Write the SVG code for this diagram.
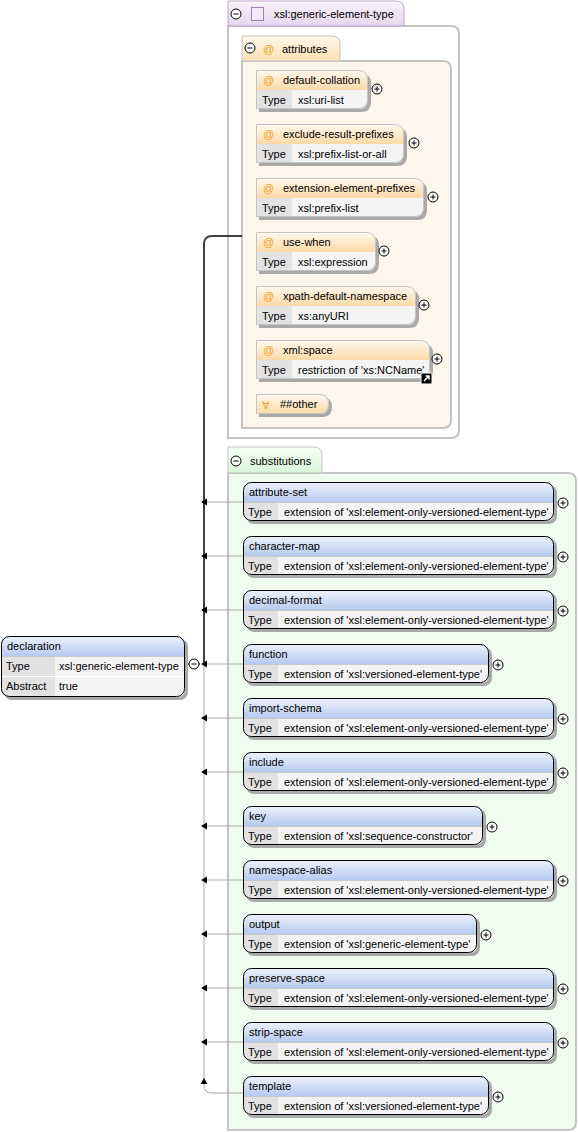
<svg xmlns="http://www.w3.org/2000/svg" width="578" height="1132" viewBox="0 0 578 1132">
<defs>
<linearGradient id="gBlue" x1="0" y1="0" x2="0" y2="1"><stop offset="0" stop-color="#eef3fc"/><stop offset="1" stop-color="#b6caee"/></linearGradient>
<linearGradient id="gOrange" x1="0" y1="0" x2="0" y2="1"><stop offset="0" stop-color="#fffaf1"/><stop offset="1" stop-color="#fcd9a6"/></linearGradient>
<linearGradient id="gPurple" x1="0" y1="0" x2="0" y2="1"><stop offset="0" stop-color="#f8f3fa"/><stop offset="1" stop-color="#e6d6ee"/></linearGradient>
<linearGradient id="gAttrTab" x1="0" y1="0" x2="0" y2="1"><stop offset="0" stop-color="#fff7ea"/><stop offset="1" stop-color="#fde0b4"/></linearGradient>
<linearGradient id="gGreen" x1="0" y1="0" x2="0" y2="1"><stop offset="0" stop-color="#f6fff6"/><stop offset="1" stop-color="#d8f6d8"/></linearGradient>
<g id="plus"><circle r="5" fill="#fff" stroke="#000" stroke-width="1"/><path d="M-2.5,0H2.5M0,-2.5V2.5" stroke="#000" stroke-width="1"/></g>
<g id="minus"><circle r="5" fill="#fff" stroke="#000" stroke-width="1"/><path d="M-2.5,0H2.5" stroke="#000" stroke-width="1"/></g>
</defs>
<style>
text{font-family:"Liberation Sans",Arial,sans-serif;font-size:11px;fill:#000}
.at{fill:#f0a020}
.shadow{fill:#a9a9a9}
.hdrB{fill:url(#gBlue)}
.hdrO{fill:url(#gOrange)}
.body{fill:#f4f4f4}
.lbl{fill:#e2e2e2}
.eout{fill:none;stroke:#000;stroke-width:1}
.aout{fill:none;stroke:#c4c4c4;stroke-width:1}
.sep{stroke:#c8c8c8;stroke-width:1}
.wsep{stroke:#fff;stroke-width:1}
.conn{fill:none;stroke:#a8a8a8;stroke-width:1}
.connD{fill:none;stroke:#404040;stroke-width:2}
.ah{fill:#000}
.box{stroke:#c4c4c4;stroke-width:2}
</style>

<!-- complex type container -->
<g id="complexType">
<path class="box" d="M228,438V26H451Q459,26 459,34V430Q459,438 451,438Z" fill="#fff"/>
<path d="M228,26V1H396Q404,1 404,9V26Z" fill="url(#gPurple)" stroke="#bda8c8" stroke-width="1"/>
<use href="#minus" x="236" y="14"/>
<rect x="251.5" y="7.5" width="12" height="13" fill="#f1e8f5" stroke="#a67cb8" stroke-width="1"/>
<text x="274" y="18">xsl:generic-element-type</text>
</g>

<g id="attributes">
<path class="box" d="M242,428V61H443Q451,61 451,69V420Q451,428 443,428Z" fill="#fdf6ec"/>
<path d="M242,61V36H332Q340,36 340,44V61Z" fill="url(#gAttrTab)" stroke="#c4c4c4" stroke-width="1"/>
<use href="#minus" x="250" y="48"/>
<text class="at" x="263" y="53">@</text>
<text x="282" y="53">attributes</text>
</g>

<!-- attribute nodes -->
<g id="attr-default-collation" transform="translate(256,70)">
<path class="shadow" d="M3,3H102Q115,3 115,13V32Q115,42 105,42H3Z"/>
<path class="hdrO" d="M0,0H102Q112,0 112,10V20H0Z"/>
<path class="body" d="M0,20H112V29Q112,39 102,39H0Z"/>
<rect class="lbl" x="0" y="20" width="36" height="19"/>
<path class="aout" d="M0.5,0.5H102Q111.5,0.5 111.5,10V29Q111.5,38.5 102,38.5H0.5Z"/>
<text class="at" x="7" y="14">@</text><text x="27" y="14">default-collation</text>
<text x="6" y="34">Type</text><text x="42" y="34">xsl:uri-list</text>
<use href="#plus" x="121" y="19"/>
</g>
<g id="attr-exclude-result-prefixes" transform="translate(256,124)">
<path class="shadow" d="M3,3H138Q151,3 151,13V32Q151,42 141,42H3Z"/>
<path class="hdrO" d="M0,0H138Q148,0 148,10V20H0Z"/>
<path class="body" d="M0,20H148V29Q148,39 138,39H0Z"/>
<rect class="lbl" x="0" y="20" width="36" height="19"/>
<path class="aout" d="M0.5,0.5H138Q147.5,0.5 147.5,10V29Q147.5,38.5 138,38.5H0.5Z"/>
<text class="at" x="7" y="14">@</text><text x="27" y="14">exclude-result-prefixes</text>
<text x="6" y="34">Type</text><text x="42" y="34">xsl:prefix-list-or-all</text>
<use href="#plus" x="158" y="19"/>
</g>
<g id="attr-extension-element-prefixes" transform="translate(256,178)">
<path class="shadow" d="M3,3H158Q171,3 171,13V32Q171,42 161,42H3Z"/>
<path class="hdrO" d="M0,0H158Q168,0 168,10V20H0Z"/>
<path class="body" d="M0,20H168V29Q168,39 158,39H0Z"/>
<rect class="lbl" x="0" y="20" width="36" height="19"/>
<path class="aout" d="M0.5,0.5H158Q167.5,0.5 167.5,10V29Q167.5,38.5 158,38.5H0.5Z"/>
<text class="at" x="7" y="14">@</text><text x="27" y="14">extension-element-prefixes</text>
<text x="6" y="34">Type</text><text x="42" y="34">xsl:prefix-list</text>
<use href="#plus" x="177" y="19"/>
</g>
<g id="attr-use-when" transform="translate(256,232)">
<path class="shadow" d="M3,3H110Q123,3 123,13V32Q123,42 113,42H3Z"/>
<path class="hdrO" d="M0,0H110Q120,0 120,10V20H0Z"/>
<path class="body" d="M0,20H120V29Q120,39 110,39H0Z"/>
<rect class="lbl" x="0" y="20" width="36" height="19"/>
<path class="aout" d="M0.5,0.5H110Q119.5,0.5 119.5,10V29Q119.5,38.5 110,38.5H0.5Z"/>
<text class="at" x="7" y="14">@</text><text x="27" y="14">use-when</text>
<text x="6" y="34">Type</text><text x="42" y="34">xsl:expression</text>
<use href="#plus" x="128" y="19"/>
</g>
<g id="attr-xpath-default-namespace" transform="translate(256,286)">
<path class="shadow" d="M3,3H150Q163,3 163,13V32Q163,42 153,42H3Z"/>
<path class="hdrO" d="M0,0H150Q160,0 160,10V20H0Z"/>
<path class="body" d="M0,20H160V29Q160,39 150,39H0Z"/>
<rect class="lbl" x="0" y="20" width="36" height="19"/>
<path class="aout" d="M0.5,0.5H150Q159.5,0.5 159.5,10V29Q159.5,38.5 150,38.5H0.5Z"/>
<text class="at" x="7" y="14">@</text><text x="27" y="14">xpath-default-namespace</text>
<text x="6" y="34">Type</text><text x="42" y="34">xs:anyURI</text>
<use href="#plus" x="168" y="19"/>
</g>
<g id="attr-xml-space" transform="translate(256,340)">
<path class="shadow" d="M3,3H164Q177,3 177,13V32Q177,42 167,42H3Z"/>
<path class="hdrO" d="M0,0H164Q174,0 174,10V20H0Z"/>
<path class="body" d="M0,20H174V29Q174,39 164,39H0Z"/>
<rect class="lbl" x="0" y="20" width="36" height="19"/>
<path class="aout" d="M0.5,0.5H164Q173.5,0.5 173.5,10V29Q173.5,38.5 164,38.5H0.5Z"/>
<text class="at" x="7" y="14">@</text><text x="27" y="14">xml:space</text>
<text x="6" y="34">Type</text><text x="42" y="34">restriction of 'xs:NCName'</text>
<use href="#plus" x="181" y="19"/>
<rect x="165" y="33" width="11" height="11" fill="#000" stroke="#fff" stroke-width="1"/>
<path d="M168,41L173,36M169.5,36H173V39.5" fill="none" stroke="#fff" stroke-width="1.5"/>
</g>
<g id="attr-other" transform="translate(256,394)">
<path class="shadow" d="M3,3H66Q76,3 76,13V13Q76,23 66,23H3Z"/>
<path class="hdrO" d="M0,0H64Q73,0 73,10V10Q73,20 64,20H0Z"/>
<path class="aout" d="M0.5,0.5H64Q72.5,0.5 72.5,10V10Q72.5,19.5 64,19.5H0.5Z"/>
<text class="at" x="6" y="15" style="font-family:'DejaVu Sans',sans-serif;font-size:11px">∀</text>
<text x="24" y="14">##other</text>
</g>

<!-- substitutions container -->
<g id="substitutions">
<path class="box" d="M228,1130V473H568Q576,473 576,481V1122Q576,1130 568,1130Z" fill="#f1fcf1"/>
<path d="M228,473V447H314Q322,447 322,455V473Z" fill="url(#gGreen)" stroke="#c4c4c4" stroke-width="1"/>
<use href="#minus" x="236" y="461"/>
<text x="250" y="465">substitutions</text>
</g>

<!-- connectors -->
<g id="connectors">
<path class="connD" d="M242,236H212Q204,236 204,244V664"/>
<path class="conn" d="M204,664V1085Q204,1093 212,1093H243"/>
<path class="conn" d="M205,502H243M205,556H243M205,610H243M205,664H243M205,718H243M205,772H243M205,826H243M205,880H243M205,934H243M205,988H243M205,1042H243"/>
<path class="ah" d="M201,502L207,498.5V505.5ZM201,556L207,552.5V559.5ZM201,610L207,606.5V613.5ZM201,664L207,660.5V667.5ZM201,718L207,714.5V721.5ZM201,772L207,768.5V775.5ZM201,826L207,822.5V829.5ZM201,880L207,876.5V883.5ZM201,934L207,930.5V937.5ZM201,988L207,984.5V991.5ZM201,1042L207,1038.5V1045.5ZM204,1078L200.5,1084H207.5Z"/>
<path d="M186,664H200" stroke="#000" stroke-width="1"/>
</g>

<!-- declaration -->
<g id="declaration" transform="translate(1,636)">
<rect class="shadow" x="3" y="3" width="184" height="61" rx="8"/>
<path class="hdrB" d="M0,20V8Q0,0 8,0H176Q184,0 184,8V20Z"/>
<path class="body" d="M0,20H184V53Q184,61 176,61H8Q0,61 0,53Z"/>
<path class="lbl" d="M0,20H54V61H8Q0,61 0,53Z"/>
<path class="wsep" d="M0,40.5H184"/>
<path class="sep" d="M0,20.5H184"/>
<rect class="eout" x="0.5" y="0.5" width="183" height="60" rx="8"/>
<text x="6" y="14">declaration</text>
<text x="5" y="34">Type</text><text x="58" y="34">xsl:generic-element-type</text>
<text x="5" y="54">Abstract</text><text x="58" y="54">true</text>
<use href="#minus" x="193" y="28"/>
</g>

<!-- substitution elements -->
<g id="el-attribute-set" transform="translate(243,482)">
<rect class="shadow" x="3" y="3" width="311" height="39" rx="8"/>
<path class="hdrB" d="M0,20V8Q0,0 8,0H303Q311,0 311,8V20Z"/>
<path class="body" d="M0,20H311V31Q311,39 303,39H8Q0,39 0,31Z"/>
<path class="lbl" d="M0,20H35V39H8Q0,39 0,31Z"/>
<path class="sep" d="M0,20.5H311"/>
<rect class="eout" x="0.5" y="0.5" width="310" height="38" rx="8"/>
<text x="6" y="14">attribute-set</text>
<text x="5" y="34">Type</text><text x="41" y="34">extension of 'xsl:element-only-versioned-element-type'</text>
<use href="#plus" x="320" y="21"/>
</g>
<g id="el-character-map" transform="translate(243,536)">
<rect class="shadow" x="3" y="3" width="311" height="39" rx="8"/>
<path class="hdrB" d="M0,20V8Q0,0 8,0H303Q311,0 311,8V20Z"/>
<path class="body" d="M0,20H311V31Q311,39 303,39H8Q0,39 0,31Z"/>
<path class="lbl" d="M0,20H35V39H8Q0,39 0,31Z"/>
<path class="sep" d="M0,20.5H311"/>
<rect class="eout" x="0.5" y="0.5" width="310" height="38" rx="8"/>
<text x="6" y="14">character-map</text>
<text x="5" y="34">Type</text><text x="41" y="34">extension of 'xsl:element-only-versioned-element-type'</text>
<use href="#plus" x="320" y="21"/>
</g>
<g id="el-decimal-format" transform="translate(243,590)">
<rect class="shadow" x="3" y="3" width="311" height="39" rx="8"/>
<path class="hdrB" d="M0,20V8Q0,0 8,0H303Q311,0 311,8V20Z"/>
<path class="body" d="M0,20H311V31Q311,39 303,39H8Q0,39 0,31Z"/>
<path class="lbl" d="M0,20H35V39H8Q0,39 0,31Z"/>
<path class="sep" d="M0,20.5H311"/>
<rect class="eout" x="0.5" y="0.5" width="310" height="38" rx="8"/>
<text x="6" y="14">decimal-format</text>
<text x="5" y="34">Type</text><text x="41" y="34">extension of 'xsl:element-only-versioned-element-type'</text>
<use href="#plus" x="320" y="21"/>
</g>
<g id="el-function" transform="translate(243,644)">
<rect class="shadow" x="3" y="3" width="246" height="39" rx="8"/>
<path class="hdrB" d="M0,20V8Q0,0 8,0H238Q246,0 246,8V20Z"/>
<path class="body" d="M0,20H246V31Q246,39 238,39H8Q0,39 0,31Z"/>
<path class="lbl" d="M0,20H35V39H8Q0,39 0,31Z"/>
<path class="sep" d="M0,20.5H246"/>
<rect class="eout" x="0.5" y="0.5" width="245" height="38" rx="8"/>
<text x="6" y="14">function</text>
<text x="5" y="34">Type</text><text x="41" y="34">extension of 'xsl:versioned-element-type'</text>
<use href="#plus" x="255" y="21"/>
</g>
<g id="el-import-schema" transform="translate(243,698)">
<rect class="shadow" x="3" y="3" width="311" height="39" rx="8"/>
<path class="hdrB" d="M0,20V8Q0,0 8,0H303Q311,0 311,8V20Z"/>
<path class="body" d="M0,20H311V31Q311,39 303,39H8Q0,39 0,31Z"/>
<path class="lbl" d="M0,20H35V39H8Q0,39 0,31Z"/>
<path class="sep" d="M0,20.5H311"/>
<rect class="eout" x="0.5" y="0.5" width="310" height="38" rx="8"/>
<text x="6" y="14">import-schema</text>
<text x="5" y="34">Type</text><text x="41" y="34">extension of 'xsl:element-only-versioned-element-type'</text>
<use href="#plus" x="320" y="21"/>
</g>
<g id="el-include" transform="translate(243,752)">
<rect class="shadow" x="3" y="3" width="311" height="39" rx="8"/>
<path class="hdrB" d="M0,20V8Q0,0 8,0H303Q311,0 311,8V20Z"/>
<path class="body" d="M0,20H311V31Q311,39 303,39H8Q0,39 0,31Z"/>
<path class="lbl" d="M0,20H35V39H8Q0,39 0,31Z"/>
<path class="sep" d="M0,20.5H311"/>
<rect class="eout" x="0.5" y="0.5" width="310" height="38" rx="8"/>
<text x="6" y="14">include</text>
<text x="5" y="34">Type</text><text x="41" y="34">extension of 'xsl:element-only-versioned-element-type'</text>
<use href="#plus" x="320" y="21"/>
</g>
<g id="el-key" transform="translate(243,806)">
<rect class="shadow" x="3" y="3" width="240" height="39" rx="8"/>
<path class="hdrB" d="M0,20V8Q0,0 8,0H232Q240,0 240,8V20Z"/>
<path class="body" d="M0,20H240V31Q240,39 232,39H8Q0,39 0,31Z"/>
<path class="lbl" d="M0,20H35V39H8Q0,39 0,31Z"/>
<path class="sep" d="M0,20.5H240"/>
<rect class="eout" x="0.5" y="0.5" width="239" height="38" rx="8"/>
<text x="6" y="14">key</text>
<text x="5" y="34">Type</text><text x="41" y="34">extension of 'xsl:sequence-constructor'</text>
<use href="#plus" x="249" y="21"/>
</g>
<g id="el-namespace-alias" transform="translate(243,860)">
<rect class="shadow" x="3" y="3" width="311" height="39" rx="8"/>
<path class="hdrB" d="M0,20V8Q0,0 8,0H303Q311,0 311,8V20Z"/>
<path class="body" d="M0,20H311V31Q311,39 303,39H8Q0,39 0,31Z"/>
<path class="lbl" d="M0,20H35V39H8Q0,39 0,31Z"/>
<path class="sep" d="M0,20.5H311"/>
<rect class="eout" x="0.5" y="0.5" width="310" height="38" rx="8"/>
<text x="6" y="14">namespace-alias</text>
<text x="5" y="34">Type</text><text x="41" y="34">extension of 'xsl:element-only-versioned-element-type'</text>
<use href="#plus" x="320" y="21"/>
</g>
<g id="el-output" transform="translate(243,914)">
<rect class="shadow" x="3" y="3" width="234" height="39" rx="8"/>
<path class="hdrB" d="M0,20V8Q0,0 8,0H226Q234,0 234,8V20Z"/>
<path class="body" d="M0,20H234V31Q234,39 226,39H8Q0,39 0,31Z"/>
<path class="lbl" d="M0,20H35V39H8Q0,39 0,31Z"/>
<path class="sep" d="M0,20.5H234"/>
<rect class="eout" x="0.5" y="0.5" width="233" height="38" rx="8"/>
<text x="6" y="14">output</text>
<text x="5" y="34">Type</text><text x="41" y="34">extension of 'xsl:generic-element-type'</text>
<use href="#plus" x="243" y="21"/>
</g>
<g id="el-preserve-space" transform="translate(243,968)">
<rect class="shadow" x="3" y="3" width="311" height="39" rx="8"/>
<path class="hdrB" d="M0,20V8Q0,0 8,0H303Q311,0 311,8V20Z"/>
<path class="body" d="M0,20H311V31Q311,39 303,39H8Q0,39 0,31Z"/>
<path class="lbl" d="M0,20H35V39H8Q0,39 0,31Z"/>
<path class="sep" d="M0,20.5H311"/>
<rect class="eout" x="0.5" y="0.5" width="310" height="38" rx="8"/>
<text x="6" y="14">preserve-space</text>
<text x="5" y="34">Type</text><text x="41" y="34">extension of 'xsl:element-only-versioned-element-type'</text>
<use href="#plus" x="320" y="21"/>
</g>
<g id="el-strip-space" transform="translate(243,1022)">
<rect class="shadow" x="3" y="3" width="311" height="39" rx="8"/>
<path class="hdrB" d="M0,20V8Q0,0 8,0H303Q311,0 311,8V20Z"/>
<path class="body" d="M0,20H311V31Q311,39 303,39H8Q0,39 0,31Z"/>
<path class="lbl" d="M0,20H35V39H8Q0,39 0,31Z"/>
<path class="sep" d="M0,20.5H311"/>
<rect class="eout" x="0.5" y="0.5" width="310" height="38" rx="8"/>
<text x="6" y="14">strip-space</text>
<text x="5" y="34">Type</text><text x="41" y="34">extension of 'xsl:element-only-versioned-element-type'</text>
<use href="#plus" x="320" y="21"/>
</g>
<g id="el-template" transform="translate(243,1076)">
<rect class="shadow" x="3" y="3" width="246" height="39" rx="8"/>
<path class="hdrB" d="M0,20V8Q0,0 8,0H238Q246,0 246,8V20Z"/>
<path class="body" d="M0,20H246V31Q246,39 238,39H8Q0,39 0,31Z"/>
<path class="lbl" d="M0,20H35V39H8Q0,39 0,31Z"/>
<path class="sep" d="M0,20.5H246"/>
<rect class="eout" x="0.5" y="0.5" width="245" height="38" rx="8"/>
<text x="6" y="14">template</text>
<text x="5" y="34">Type</text><text x="41" y="34">extension of 'xsl:versioned-element-type'</text>
<use href="#plus" x="255" y="21"/>
</g>
</svg>
